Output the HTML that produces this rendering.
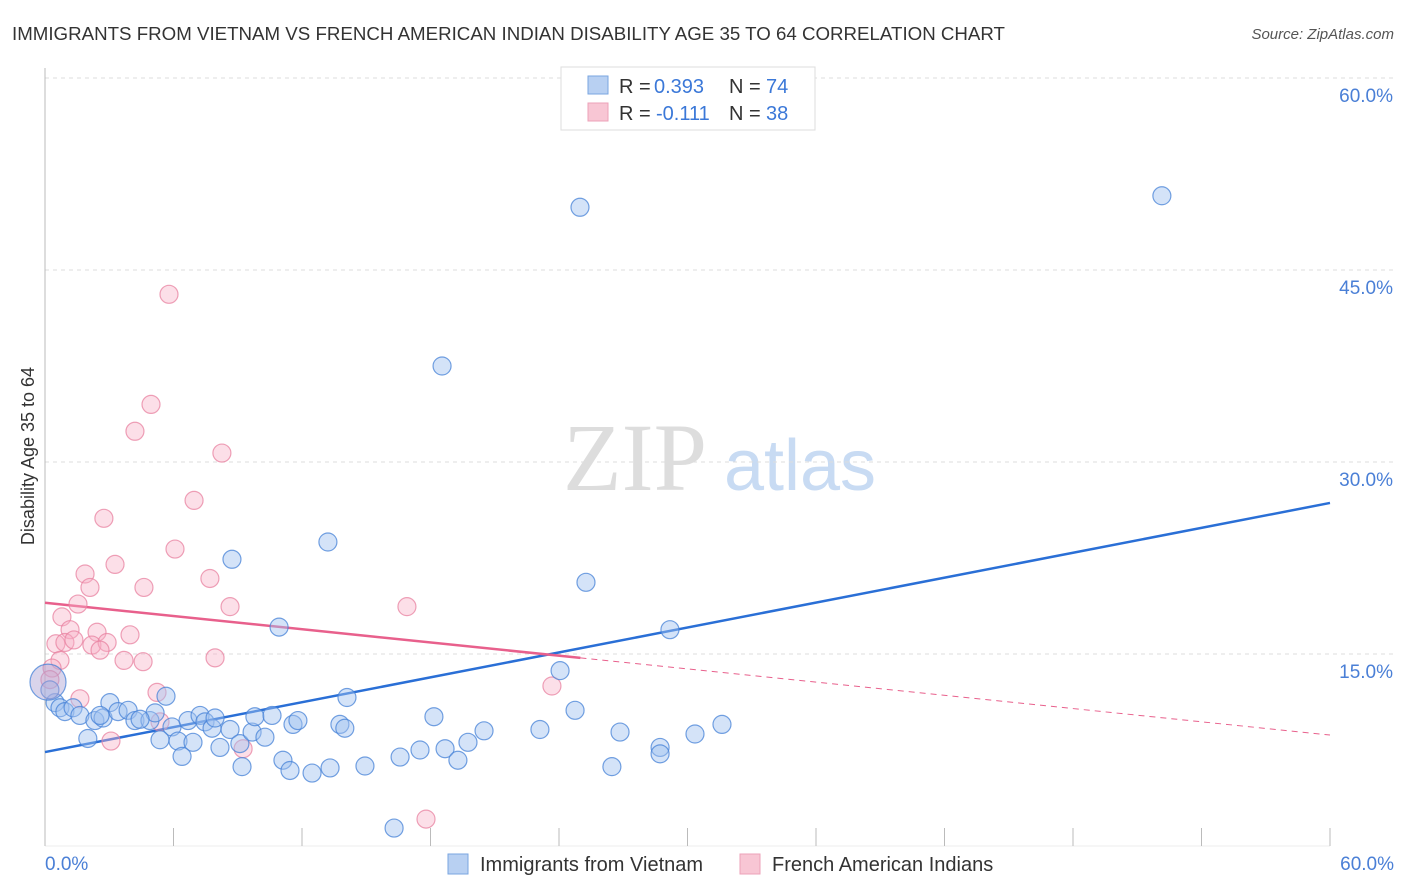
<!DOCTYPE html>
<html><head><meta charset="utf-8"><style>
body{margin:0;background:#fff;font-family:"Liberation Sans",sans-serif;}
#wrap{position:relative;width:1406px;height:892px;overflow:hidden;}
</style></head><body><div id="wrap">
<svg id="svg" width="1406" height="892" xmlns="http://www.w3.org/2000/svg">
<text x="12" y="40" font-size="18" fill="#333" textLength="993" lengthAdjust="spacingAndGlyphs" font-family="Liberation Sans, sans-serif">IMMIGRANTS FROM VIETNAM VS FRENCH AMERICAN INDIAN DISABILITY AGE 35 TO 64 CORRELATION CHART</text>
<text x="1394" y="39" font-size="15" fill="#555" font-style="italic" text-anchor="end">Source: ZipAtlas.com</text>
<text x="34" y="456" font-size="18" fill="#333" text-anchor="middle" transform="rotate(-90 34 456)">Disability Age 35 to 64</text>
<g><text x="635" y="490" font-size="96" fill="#ddd" font-family="Liberation Serif, serif" text-anchor="middle">ZIP</text><text x="800" y="490" font-size="72" fill="#c8dbf3" text-anchor="middle">atlas</text></g>
<g id="grid"></g><g id="axes"></g><g id="lines"></g><g id="pts"></g>
<g>
<rect x="561" y="67" width="254" height="63" fill="#fff" stroke="#ddd"/>
<rect x="588" y="76" width="20" height="18" fill="#b8d0f2" stroke="#7aa6e0"/>
<rect x="588" y="103" width="20" height="18" fill="#f8c6d4" stroke="#eda2b8"/>
<text x="619" y="93" font-size="20" fill="#333">R = </text><text x="654" y="93" font-size="20" fill="#3b78d8">0.393</text>
<text x="729" y="93" font-size="20" fill="#333">N = </text><text x="766" y="93" font-size="20" fill="#3b78d8">74</text>
<text x="619" y="120" font-size="20" fill="#333">R = </text><text x="656" y="120" font-size="20" fill="#3b78d8">-0.111</text>
<text x="729" y="120" font-size="20" fill="#333">N = </text><text x="766" y="120" font-size="20" fill="#3b78d8">38</text>
</g>
<g>
<rect x="448" y="854" width="20" height="20" fill="#b8d0f2" stroke="#7aa6e0"/>
<text x="480" y="871" font-size="20" fill="#333">Immigrants from Vietnam</text>
<rect x="740" y="854" width="20" height="20" fill="#f8c6d4" stroke="#eda2b8"/>
<text x="772" y="871" font-size="20" fill="#333">French American Indians</text>
</g>
</svg></div>
<script>
const yTicks=[15,30,45,60];
const yTickLabels=["15.0%","30.0%","45.0%","60.0%"];
const xTickLabels=["0.0%","60.0%"];
const blueX=[24.98,52.15,18.54,13.21,8.73,25.26,10.93,29.18,24.05,5.65,14.1,3.03,0.47,0.7,0.93,1.31,1.63,2.33,2.71,3.41,3.88,4.2,4.9,5.14,5.93,6.68,7.24,7.47,7.8,7.94,8.64,9.1,9.67,9.8,10.27,10.6,11.58,11.81,13.77,14.0,5.37,6.21,6.91,2.0,8.17,9.2,11.11,11.44,12.47,13.31,14.94,16.58,17.51,18.68,19.28,19.75,20.5,18.16,23.11,24.75,26.85,26.47,28.72,28.72,30.35,31.61,16.3,6.4,0.23,2.57,4.44];
const blueY=[49.9,50.8,37.5,23.75,22.4,20.6,17.1,16.9,13.7,11.7,11.6,11.2,11.2,10.8,10.5,10.8,10.2,9.8,10.0,10.5,10.6,9.8,9.8,10.4,9.3,9.8,10.2,9.7,9.2,10.0,9.1,8.0,8.9,10.1,8.5,10.2,9.5,9.8,9.5,9.2,8.3,8.2,8.1,8.4,7.7,6.2,6.7,5.9,5.7,6.1,6.25,6.95,7.5,7.6,6.7,8.1,9.0,10.1,9.1,10.6,8.9,6.2,7.7,7.2,8.75,9.5,1.4,7.0,12.2,10.2,9.9];
const pinkX=[5.79,4.95,4.2,8.26,6.96,2.75,6.07,3.27,1.87,4.62,7.7,2.1,8.64,16.9,1.54,0.79,1.17,2.43,3.97,0.51,0.93,1.35,2.19,2.9,2.57,7.94,0.7,3.69,4.58,0.33,5.23,1.63,3.08,9.25,23.67,17.79,0.23,5.37];
const pinkY=[43.1,34.5,32.4,30.7,27.0,25.6,23.2,22.0,21.25,20.2,20.9,20.2,18.7,18.7,18.9,17.9,16.9,16.7,16.5,15.8,15.9,16.1,15.7,15.9,15.3,14.7,14.5,14.5,14.4,13.9,12.0,11.5,8.2,7.6,12.5,2.1,13.0,9.7];
const blueTrend=[7.34,26.8];
const pinkTrend=[19.0,8.67];
const pinkSolidEnd=25;
const NS="http://www.w3.org/2000/svg";
const sx=v=>45+v*1285/60, sy=v=>846-v*768/60;
function mk(t,a,p){const e=document.createElementNS(NS,t);for(const k in a)e.setAttribute(k,a[k]);p.appendChild(e);return e;}
const grid=document.getElementById('grid'),axes=document.getElementById('axes'),lines=document.getElementById('lines'),pts=document.getElementById('pts');
yTicks.forEach((t,i)=>{
 const l=mk('line',{x1:45,x2:1394,y1:sy(t),y2:sy(t),stroke:'#ddd','stroke-dasharray':'4,4'},grid);
 
 
 const tx=mk('text',{x:1393,y:sy(t)+24,'font-size':19,fill:'#4a7fd6','text-anchor':'end'},grid);
 tx.textContent=yTickLabels[i];
 
 
});
const ax=mk('line',{x1:45,x2:45,y1:68,y2:846,stroke:'#bbb'},axes);


const bx=mk('line',{x1:45,x2:1330,y1:846,y2:846,stroke:'#eee'},axes);


for(let i=0;i<=10;i++){const t=mk('line',{x1:sx(i*6),x2:sx(i*6),y1:828,y2:846,stroke:'#bbb'},axes);
 
 }
[[0,'start',45],[60,'end',1394]].forEach((d,i)=>{const t=mk('text',{x:d[2],y:870,'font-size':19,fill:'#4a7fd6','text-anchor':d[1]},axes);t.textContent=xTickLabels[i];
 
 });
function drawPts(X,Y,fill,stroke,name){X.forEach((x,i)=>{const c=mk('circle',{cx:sx(x),cy:sy(Y[i]),r:9,fill:fill,stroke:stroke,'stroke-width':1.2},pts);
 
 });}
drawPts(pinkX,pinkY,'rgba(247,176,198,0.4)','rgba(232,130,160,0.75)','pink-point');
drawPts(blueX,blueY,'rgba(160,194,240,0.45)','rgba(70,130,215,0.75)','blue-point');
const big=mk('circle',{cx:sx(0.14),cy:sy(12.8),r:18,fill:'rgba(170,160,210,0.45)',stroke:'rgba(70,130,215,0.75)','stroke-width':1.2},pts);


const bl=mk('line',{x1:sx(0),y1:sy(blueTrend[0]),x2:sx(60),y2:sy(blueTrend[1]),stroke:'#2a6fd6','stroke-width':2.5},lines);


const pm=pinkTrend[0]+(pinkTrend[1]-pinkTrend[0])*pinkSolidEnd/60;
const pl=mk('line',{x1:sx(0),y1:sy(pinkTrend[0]),x2:sx(pinkSolidEnd),y2:sy(pm),stroke:'#e8608c','stroke-width':2.5},lines);


const pd=mk('line',{x1:sx(pinkSolidEnd),y1:sy(pm),x2:sx(60),y2:sy(pinkTrend[1]),stroke:'#e8608c','stroke-width':1,'stroke-dasharray':'6,5'},lines);


</script></body></html>
